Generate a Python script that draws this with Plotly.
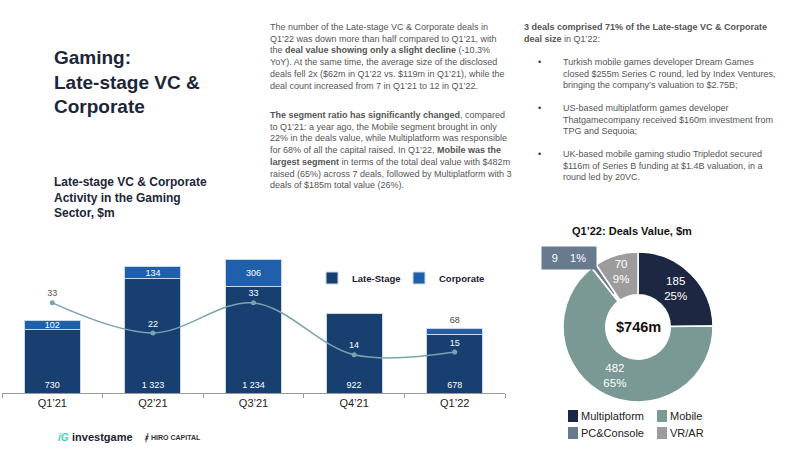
import plotly.graph_objects as go

# ---------------- data ----------------
quarters = ["Q1’21", "Q2’21", "Q3’21", "Q4’21", "Q1’22"]
late_stage = [730, 1323, 1234, 922, 678]
corporate = [102, 134, 306, 0, 68]
deal_count = [33, 22, 33, 14, 15]

segments = ["Multiplatform", "Mobile", "PC&Console", "VR/AR"]
segment_values = [185, 482, 9, 70]
segment_colors = ["#1e2742", "#7a9894", "#687b8e", "#9c9c9c"]

# ---------------- helpers ----------------
W, H = 800, 450
def px(x):
    return x / W
def py(y):
    return 1 - y / H

FONT = "Liberation Sans, Arial, Helvetica, sans-serif"
DARK = "#1b2639"
GRAY = "#555555"

def fmt_thousands(v):
    return f"{v:,}".replace(",", " ")

fig = go.Figure()

# ---------------- bar chart ----------------
fig.add_trace(go.Bar(
    x=quarters, y=late_stage, name="Late-Stage",
    marker=dict(color="#173f70", line=dict(color="#c9d9ec", width=1)),
    text=[fmt_thousands(v) for v in late_stage],
    textposition="inside", insidetextanchor="start",
    textfont=dict(color="white", size=9, family=FONT),
    constraintext="none", cliponaxis=False,
    legend="legend", hoverinfo="skip",
))
corp_text = [fmt_thousands(v) if v > 0 else "" for v in corporate]
corp_pos = ["inside" if v > 100 else "outside" for v in corporate]
fig.add_trace(go.Bar(
    x=quarters, y=corporate, name="Corporate",
    marker=dict(color="#1f5fab", line=dict(color="#c9d9ec", width=1)),
    text=corp_text, textposition=corp_pos, insidetextanchor="middle",
    insidetextfont=dict(color="white", size=9, family=FONT),
    outsidetextfont=dict(color="#444444", size=9, family=FONT),
    constraintext="none", cliponaxis=False,
    legend="legend", hoverinfo="skip",
))
fig.add_trace(go.Scatter(
    x=quarters, y=deal_count, yaxis="y2", name="Deals",
    mode="lines+markers+text", line=dict(color="#7aa3b1", width=1.5, shape="spline"),
    marker=dict(size=5, color="#7aa3b1"),
    text=[str(v) for v in deal_count], textposition="top center",
    textfont=dict(size=9, family=FONT,
                  color=["#555555", "white", "white", "white", "white"]),
    showlegend=False, cliponaxis=False, hoverinfo="skip",
))

# ---------------- donut ----------------
total = sum(segment_values)
pct = [round(v / total * 100) for v in segment_values]
pie_text = [f"{v}<br>{p}%" for v, p in zip(segment_values, pct)]
pie_text[2] = ""  # shown in the call-out box
fig.add_trace(go.Pie(
    labels=segments, values=segment_values, sort=False, direction="clockwise",
    rotation=0, hole=0.43, pull=[0, 0, 0.1, 0],
    marker=dict(colors=segment_colors, line=dict(color="white", width=1.5)),
    text=pie_text, textinfo="text", textposition="inside",
    insidetextorientation="horizontal",
    textfont=dict(color="white", size=11.5, family=FONT),
    domain=dict(x=[px(555.5), px(720.5)], y=[py(409.5), py(244.5)]),
    showlegend=False, hoverinfo="skip",
))

# ---------------- annotations ----------------
ann = []
shapes = []
def text(x, y, s, size, color=GRAY, bold=False, xanchor="left", yanchor="top", **kw):
    if bold:
        s = f"<b>{s}</b>"
    ann.append(dict(x=px(x), y=py(y), xref="paper", yref="paper", text=s,
                    showarrow=False, xanchor=xanchor, yanchor=yanchor, align="left",
                    font=dict(size=size, color=color, family=FONT), **kw))

text(52, 45, "Gaming:<br>Late-stage VC &amp;<br>Corporate", 19, DARK, bold=True)
text(52, 173, "Late-stage VC &amp; Corporate<br>Activity in the Gaming<br>Sector, $m", 12, DARK, bold=True)

p1 = ("The number of the Late-stage VC &amp; Corporate deals in<br>"
      "Q1’22 was down more than half compared to Q1’21, with<br>"
      "the <b>deal value showing only a slight decline</b> (-10.3%<br>"
      "YoY). At the same time, the average size of the disclosed<br>"
      "deals fell 2x ($62m in Q1’22 vs. $119m in Q1’21), while the<br>"
      "deal count increased from 7 in Q1’21 to 12 in Q1’22.")
text(268, 20, p1, 9)
p2 = ("<b>The segment ratio has significantly changed</b>, compared<br>"
      "to Q1’21: a year ago, the Mobile segment brought in only<br>"
      "22% in the deals value, while Multiplatform was responsible<br>"
      "for 68% of all the capital raised. In Q1’22, <b>Mobile was the</b><br>"
      "<b>largest segment</b> in terms of the total deal value with $482m<br>"
      "raised (65%) across 7 deals, followed by Multiplatform with 3<br>"
      "deals of $185m total value (26%).")
text(268, 108, p2, 9)

p3 = ("<b>3 deals comprised 71% of the Late-stage VC &amp; Corporate</b><br>"
      "<b>deal size</b> in Q1’22:")
text(522, 20, p3, 9)
bullets = [
    "Turkish mobile games developer Dream Games<br>closed $255m Series C round, led by Index Ventures,<br>bringing the company’s valuation to $2.75B;",
    "US-based multiplatform games developer<br>Thatgamecompany received $160m investment from<br>TPG and Sequoia;",
    "UK-based mobile gaming studio Tripledot secured<br>$116m of Series B funding at $1.4B valuation, in a<br>round led by 20VC.",
]
for i, b in enumerate(bullets):
    top = 55 + i * 46
    text(536, top, "•", 9, "#333333")
    text(561, top, b, 9)

text(632, 231, "Q1’22: Deals Value, $m", 11, "#111111", bold=True, xanchor="center", yanchor="middle")
text(638, 327, f"${total}m", 14.5, "#111111", bold=True, xanchor="center", yanchor="middle")
# call-out box for the small slice
ann.append(dict(x=px(569), y=py(258), xref="paper", yref="paper",
                text=f"{segment_values[2]}&nbsp;&nbsp;&nbsp;&nbsp;{pct[2]}%",
                showarrow=False, xanchor="center", yanchor="middle",
                bgcolor=segment_colors[2], width=48, height=16, borderpad=3,
                font=dict(size=11, color="white", family=FONT)))

# donut legend (2 x 2 grid)
for i, (lab, col) in enumerate(zip(segments, segment_colors)):
    cx = 568 + (i % 2) * 89
    cy = 416 + (i // 2) * 17
    shapes.append(dict(type="rect", xref="paper", yref="paper",
                       x0=px(cx), x1=px(cx + 10), y0=py(cy + 6), y1=py(cy - 6),
                       fillcolor=col, line=dict(width=0)))
    text(cx + 11, cy, lab, 11, "#222222", yanchor="middle")

# logos
text(56, 437, "<i>iG</i>", 10, "#3fd3bf", bold=True, yanchor="middle")
text(70, 437, "investgame", 11, "#1b2233", bold=True, yanchor="middle")
text(141, 437, "<i>ᚼ</i>", 10, "#333333", bold=True, yanchor="middle")
text(149, 437, "HIRO CAPITAL", 7, "#333333", bold=True, yanchor="middle")

fig.update_layout(
    width=W, height=H, margin=dict(l=0, r=0, t=0, b=0, autoexpand=False),
    paper_bgcolor="white", plot_bgcolor="white",
    barmode="stack", bargap=0.445,
    font=dict(family=FONT, color=DARK),
    xaxis=dict(domain=[px(2), px(505)], type="category", showline=True,
               linecolor="#9a9a9a", linewidth=1, ticks="outside", tickson="boundaries",
               ticklen=4, tickcolor="#9a9a9a", showgrid=False, zeroline=False,
               tickfont=dict(size=11, color="#222222", family=FONT)),
    yaxis=dict(domain=[py(393), py(240)], range=[0, 1765], visible=False, showgrid=False),
    yaxis2=dict(overlaying="y", range=[0, 56], visible=False, showgrid=False),
    legend=dict(orientation="h", x=px(312), y=py(278), xanchor="left", yanchor="middle",
                font=dict(size=9.5, color="#1b2233", family=FONT, weight="bold"),
                itemwidth=30, tracegroupgap=0, bgcolor="rgba(0,0,0,0)",
                traceorder="normal", entrywidth=42),
    annotations=ann,
    shapes=shapes,
    showlegend=True,
)

fig.write_html("out.html")
